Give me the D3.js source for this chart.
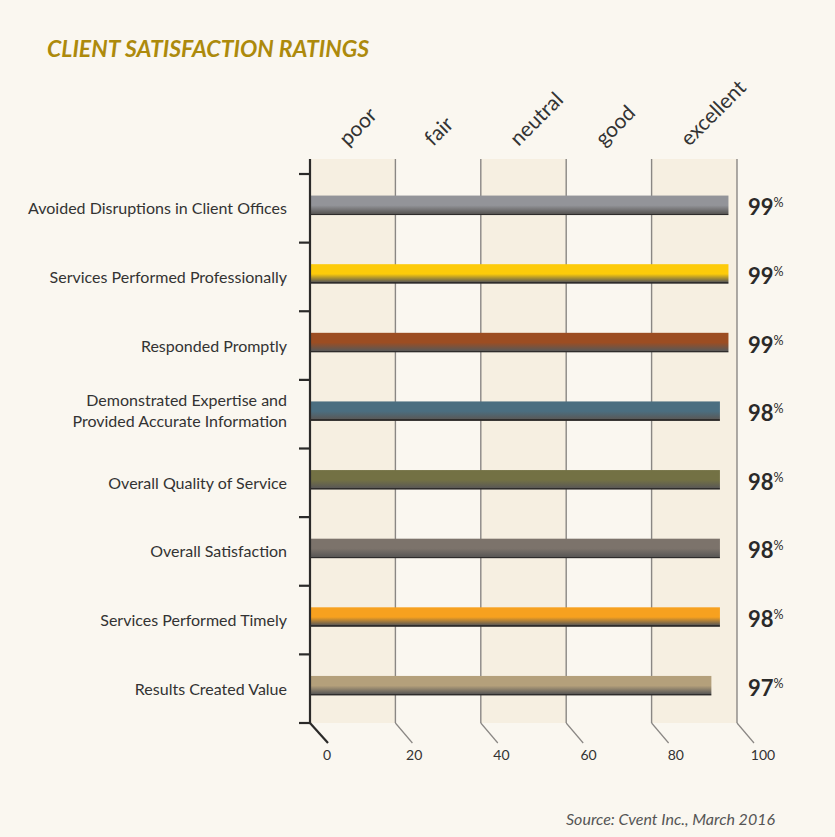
<!DOCTYPE html>
<html>
<head>
<meta charset="utf-8">
<script src="https://cdn.jsdelivr.net/npm/d3@7"></script>
<style>
  html, body { margin: 0; padding: 0; background: #faf7f0; }
  svg { display: block; }
  text { font-family: Lato, "Open Sans", sans-serif; }
</style>
</head>
<body>
<svg id="chart" width="835" height="837"></svg>
<script>
// chart data
const categories = [
  "Avoided Disruptions in Client Offices",
  "Services Performed Professionally",
  "Responded Promptly",
  "Demonstrated Expertise and|Provided Accurate Information",
  "Overall Quality of Service",
  "Overall Satisfaction",
  "Services Performed Timely",
  "Results Created Value"
];
const values = [99, 99, 99, 98, 98, 98, 98, 97];
const barColors = ["#939499", "#fdcb0a", "#9c4d22", "#4b6e80", "#737144", "#7c736b", "#f7a11f", "#b4a07b"];
const ratingLabels = ["poor", "fair", "neutral", "good", "excellent"];
const axisTicks = [0, 20, 40, 60, 80, 100];

const svg = d3.select("#chart");
const W = 835, H = 837;

svg.append("rect").attr("width", W).attr("height", H).attr("fill", "#faf7f0");

const plotLeft = 310, plotRight = 737, plotTop = 159, plotBottom = 723;

// grid scale 0..100 across the plot
var x = d3.scaleLinear().domain([0, 100]).range([plotLeft, plotRight]);
// numbers sit on the "floor", a bit wider than the grid
var xFloor = d3.scaleLinear().domain([0, 100]).range([327, 763]);
// bars in the original are drawn on a stretched 50..100 scale
var barX = d3.scaleLinear().domain([50, 100]).range([plotLeft, plotRight]);

var y = d3.scaleBand().domain(d3.range(categories.length)).range([174, plotBottom]);
var rowH = y.bandwidth();
var barH = 19.5;

// shaded columns
svg.selectAll("rect.band")
  .data(ratingLabels)
  .enter().append("rect")
  .attr("class", "band")
  .attr("x", (d, i) => x(i * 20))
  .attr("y", plotTop)
  .attr("width", x(20) - x(0))
  .attr("height", plotBottom - plotTop)
  .attr("fill", (d, i) => i % 2 == 0 ? "#f6efe1" : "none");

// vertical grid lines + perspective feet
var gx = axisTicks.slice(1);
svg.selectAll("line.grid")
  .data(gx)
  .enter().append("line")
  .attr("x1", d => x(d)).attr("x2", d => x(d))
  .attr("y1", plotTop).attr("y2", plotBottom)
  .attr("stroke", "#8a8784").attr("stroke-width", 1.4);
svg.selectAll("line.foot")
  .data(gx)
  .enter().append("line")
  .attr("x1", d => x(d)).attr("y1", plotBottom)
  .attr("x2", d => x(d) + 17).attr("y2", plotBottom + 20)
  .attr("stroke", "#8a8784").attr("stroke-width", 1.2);

// rating labels on top
svg.selectAll("text.rating")
  .data(ratingLabels)
  .enter().append("text")
  .attr("transform", (d, i) => "translate(" + (x(i * 20 + 10) - 5) + ",147) rotate(-45)")
  .attr("font-size", 21)
  .attr("fill", "#333")
  .text(d => d);

// gradients for the bars
var defs = svg.append("defs");
barColors.forEach(function(c, i) {
  var g = defs.append("linearGradient").attr("id", "grad" + i)
    .attr("x1", 0).attr("y1", 0).attr("x2", 0).attr("y2", 1);
  g.append("stop").attr("offset", "0%").attr("stop-color", c);
  g.append("stop").attr("offset", "50%").attr("stop-color", c);
  g.append("stop").attr("offset", "92%").attr("stop-color", "#5a5856");
  g.append("stop").attr("offset", "92%").attr("stop-color", "#2e2c2b");
  g.append("stop").attr("offset", "100%").attr("stop-color", "#2e2c2b");
});

svg.selectAll("rect.bar")
  .data(values)
  .enter().append("rect")
  .attr("class", "bar")
  .attr("x", plotLeft)
  .attr("y", (d, i) => y(i) + rowH / 2 - 3 - barH / 2)
  .attr("width", d => barX(d) - plotLeft)
  .attr("height", barH)
  .attr("fill", (d, i) => "url(#grad" + i + ")");

// left axis
svg.append("line")
  .attr("x1", plotLeft).attr("x2", plotLeft).attr("y1", plotTop).attr("y2", plotBottom)
  .attr("stroke", "#2b2a29").attr("stroke-width", 2.2);
svg.append("line")
  .attr("x1", plotLeft).attr("y1", plotBottom).attr("x2", plotLeft + 18).attr("y2", plotBottom + 20)
  .attr("stroke", "#2b2a29").attr("stroke-width", 2.2);
var tickYs = d3.range(categories.length + 1).map(i => 174 + i * rowH);
svg.selectAll("line.ytick")
  .data(tickYs)
  .enter().append("line")
  .attr("x1", plotLeft - 11).attr("x2", plotLeft).attr("y1", d => d).attr("y2", d => d)
  .attr("stroke", "#2b2a29").attr("stroke-width", 2.2);

// category labels
svg.selectAll("text.cat")
  .data(categories)
  .enter().append("text")
  .attr("text-anchor", "end")
  .attr("font-size", 16)
  .attr("fill", "#333")
  .each(function(d, i) {
    var lines = d.split("|");
    var cy = y(i) + rowH / 2;
    if (lines.length > 1) cy -= 4;
    var t = d3.select(this);
    lines.forEach(function(l, j) {
      t.append("tspan")
        .attr("x", 287)
        .attr("y", cy + 6 + (j - (lines.length - 1) / 2) * 21)
        .text(l);
    });
  });

// value labels
var vl = svg.selectAll("text.val")
  .data(values)
  .enter().append("text")
  .attr("x", 748)
  .attr("y", (d, i) => y(i) + rowH / 2 + 7)
  .attr("fill", "#2b2a29");
vl.append("tspan").attr("font-size", 22).attr("font-weight", "bold").text(d => d);
vl.append("tspan").attr("font-size", 12.5).attr("dy", -8).text("%");

// bottom axis numbers
svg.selectAll("text.num")
  .data(axisTicks)
  .enter().append("text")
  .attr("x", d => xFloor(d))
  .attr("y", 760)
  .attr("text-anchor", "middle")
  .attr("font-size", 14)
  .attr("fill", "#333")
  .text(d => d);

// title
svg.append("text")
  .attr("x", 47).attr("y", 57)
  .attr("font-size", 23)
  .attr("font-weight", "bold")
  .attr("font-style", "italic")
  .attr("fill", "#ad8a0c")
  .text("CLIENT SATISFACTION RATINGS");

// source
svg.append("text")
  .attr("x", 775).attr("y", 825)
  .attr("text-anchor", "end")
  .attr("font-size", 16)
  .attr("font-style", "italic")
  .attr("fill", "#555")
  .text("Source: Cvent Inc., March 2016");
</script>
</body>
</html>
